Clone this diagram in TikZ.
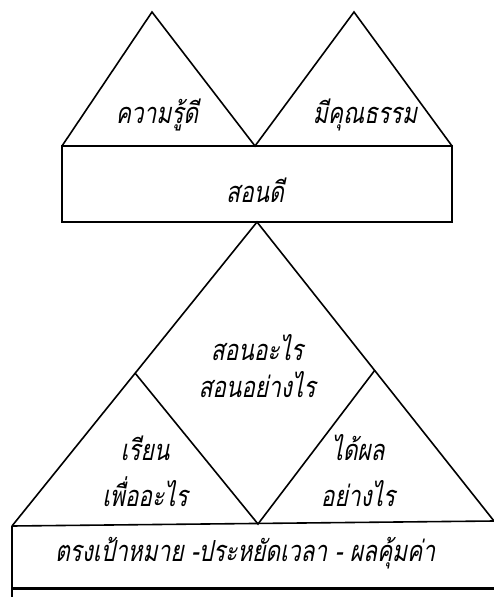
\documentclass[tikz,border=0pt]{standalone}
\usepackage{fontspec}
\newfontfamily\thaifont[Script=Thai,FakeSlant=0.2,FakeStretch=0.78]{Loma}
\begin{document}
\begin{tikzpicture}[x=1pt,y=-1pt,
  edge/.style={line width=1.6pt,line join=miter},
  label/.style={font=\thaifont\fontsize{29}{37}\selectfont,align=center,inner sep=0pt},
  widelabel/.style={label,font=\thaifont\fontsize{29}{46}\selectfont}]
\useasboundingbox (0,0) rectangle (494,597);
% top triangles
\coordinate (la) at (152,12);
\coordinate (lb) at (62,146);
\coordinate (v) at (255,146);
\coordinate (ra) at (354,12);
\coordinate (rb) at (452,146);
\coordinate (rbl) at (62,222);
\coordinate (rbr) at (452,222);
\draw[edge] (lb) -- (la) -- (v) -- (ra) -- (rb);
\draw[edge] (lb) -- (rb) -- (rbr) -- (rbl) -- cycle;
% big triangle
\coordinate (ba) at (257,222);
\coordinate (bl) at (12,526);
\coordinate (br) at (494,521);
\coordinate (dl) at (135,373);
\coordinate (dr) at (375,370);
\coordinate (db) at (258,524);
\draw[edge] (bl) -- (ba) -- (br);
\draw[edge] (dl) -- (db) -- (dr);
% bottom box
\coordinate (bbl) at (12,597);
\coordinate (lbl) at (12,588);
\coordinate (lbr) at (494,588);
\draw[edge] (bl) -- (br);
\draw[edge] (bl) -- (bbl);
\draw[line width=3pt] (lbl) -- (lbr);
% texts
\node[label] (t1) at (157,115) {ความรู้ดี};
\node[label] (t2) at (365,115) {มีคุณธรรม};
\node[label] (t3) at (255,190) {สอนดี};
\node[label] (t4) at (257,366) {สอนอะไร\\สอนอย่างไร};
\node[widelabel] (t5) at (145,471) {เรียน\\เพื่ออะไร};
\node[widelabel] (t6) at (358,471) {ได้ผล\\อย่างไร};
\node[label] (t7) at (245,553) {ตรงเป้าหมาย -ประหยัดเวลา - ผลคุ้มค่า};
\end{tikzpicture}
\end{document}
